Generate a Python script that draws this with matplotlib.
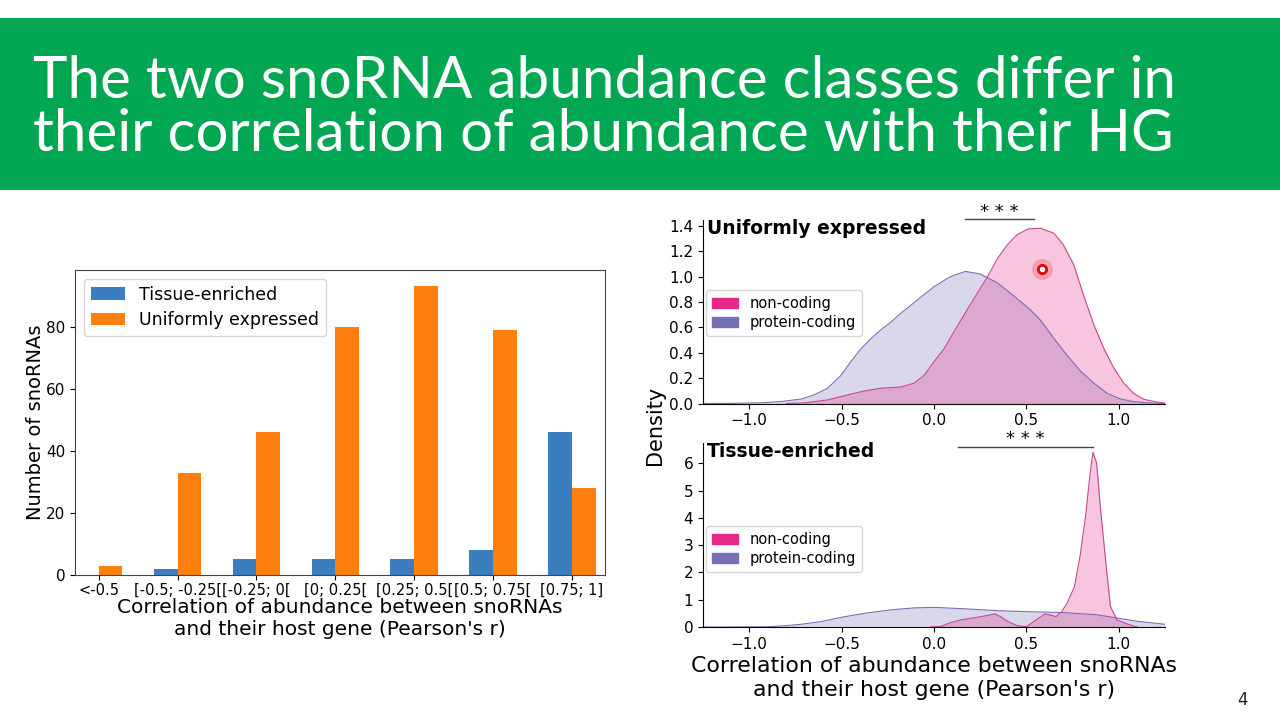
import matplotlib
matplotlib.use("Agg")
import matplotlib.pyplot as plt
from matplotlib.patches import Rectangle, Patch
import numpy as np

# ---------------- data ----------------
bins = ["<-0.5", "[-0.5; -0.25[", "[-0.25; 0[", "[0; 0.25[", "[0.25; 0.5[", "[0.5; 0.75[", "[0.75; 1]"]
tissue_enriched = [0, 2, 5, 5, 5, 8, 46]
uniformly_expressed = [3, 33, 46, 80, 93, 79, 28]

# density curves (Uniformly expressed)
uni_pc_x = [-1.25, -1.10, -0.94, -0.83, -0.72, -0.65, -0.576, -0.504, -0.45, -0.396, -0.342, -0.288,
            -0.234, -0.18, -0.09, 0.0, 0.09, 0.17, 0.25, 0.343, 0.43, 0.52, 0.577, 0.65, 0.72, 0.79,
            0.865, 0.937, 1.01, 1.08, 1.17, 1.25]
uni_pc_y = [0.0, 0.001, 0.005, 0.015, 0.035, 0.067, 0.12, 0.22, 0.33, 0.43, 0.51, 0.58,
            0.64, 0.71, 0.815, 0.92, 1.0, 1.04, 1.02, 0.95, 0.85, 0.74, 0.655, 0.51, 0.38, 0.26,
            0.16, 0.08, 0.035, 0.015, 0.004, 0.001]
uni_nc_x = [-0.80, -0.70, -0.576, -0.47, -0.38, -0.29, -0.18, -0.108, -0.054, 0.0, 0.054, 0.108, 0.18,
            0.235, 0.29, 0.343, 0.397, 0.45, 0.51, 0.577, 0.65, 0.70, 0.757, 0.81, 0.865, 0.92, 0.973,
            1.027, 1.08, 1.135, 1.21, 1.25]
uni_nc_y = [0.0, 0.005, 0.028, 0.067, 0.098, 0.12, 0.13, 0.16, 0.22, 0.33, 0.43, 0.565, 0.74,
            0.87, 1.0, 1.14, 1.25, 1.33, 1.375, 1.38, 1.34, 1.25, 1.09, 0.85, 0.62, 0.43, 0.28,
            0.16, 0.08, 0.033, 0.01, 0.003]

# density curves (Tissue-enriched)
te_pc_x = [-1.25, -1.17, -0.90, -0.80, -0.72, -0.61, -0.49, -0.36, -0.23, -0.11, 0.0, 0.16, 0.34, 0.52,
           0.70, 0.88, 0.99, 1.10, 1.25]
te_pc_y = [0.0, 0.0, 0.01, 0.05, 0.10, 0.20, 0.37, 0.52, 0.63, 0.70, 0.72, 0.67, 0.60, 0.56,
           0.53, 0.45, 0.33, 0.21, 0.10]
te_nc_x = [-0.02, 0.036, 0.09, 0.144, 0.22, 0.27, 0.33, 0.36, 0.40, 0.45, 0.50, 0.54, 0.60, 0.63, 0.66,
           0.69, 0.72, 0.76, 0.79, 0.82, 0.845, 0.86, 0.88, 0.90, 0.93, 0.955, 0.99, 1.05, 1.10]
te_nc_y = [0.0, 0.02, 0.16, 0.26, 0.34, 0.40, 0.48, 0.38, 0.20, 0.05, 0.01, 0.20, 0.48, 0.44, 0.38,
           0.56, 0.87, 1.48, 2.58, 4.05, 5.65, 6.41, 6.02, 4.42, 2.34, 0.75, 0.26, 0.10, 0.0]

density_ticks = [-1.0, -0.5, 0.0, 0.5, 1.0]

# ---------------- styles ----------------
BLUE = "#3a7ebf"
ORANGE = "#ff7f0e"
PINK = "#e7298a"
PURPLE = "#7570b3"
GREEN = "#00a651"

plt.rcParams["font.family"] = ["DejaVu Sans"]

fig = plt.figure(figsize=(12.8, 7.2), dpi=100)
fig.patch.set_facecolor("white")

# title banner
fig.patches.append(Rectangle((0, 1 - 190 / 720), 1, 172 / 720, transform=fig.transFigure,
                             facecolor=GREEN, edgecolor="none", zorder=0))
title_font = dict(family=["Lato", "DejaVu Sans"], weight="normal", color="white", fontsize=42)
fig.text(33 / 1280, 1 - 98 / 720, "The two snoRNA abundance classes differ in", va="baseline",
         ha="left", **title_font)
fig.text(33 / 1280, 1 - 151 / 720, "their correlation of abundance with their HG", va="baseline",
         ha="left", **title_font)

# ---------------- bar chart ----------------
axb = fig.add_axes([75 / 1280, 1 - 575 / 720, 530 / 1280, 305 / 720])
x = np.arange(len(bins))
w = 0.3
axb.bar(x - w / 2, tissue_enriched, width=w, color=BLUE, label="Tissue-enriched")
axb.bar(x + w / 2, uniformly_expressed, width=w, color=ORANGE, label="Uniformly expressed")
axb.set_xlim(-0.3, 6.42)
axb.set_ylim(0, 98.3)
axb.set_xticks(x)
axb.set_xticklabels(bins, fontsize=10.5)
axb.set_yticks([0, 20, 40, 60, 80])
axb.tick_params(axis="y", labelsize=11)
axb.tick_params(axis="x", pad=2)
axb.set_ylabel("Number of snoRNAs", fontsize=14, labelpad=1)
axb.set_xlabel("Correlation of abundance between snoRNAs\nand their host gene (Pearson's r)",
               fontsize=14.5, labelpad=0, linespacing=1.2)
for s in axb.spines.values():
    s.set_color("#444444")
axb.legend(loc="upper left", fontsize=12.5, frameon=True, borderaxespad=0.5,
           handlelength=2.0, labelspacing=0.45)

# ---------------- density plots ----------------
def density_panel(ax, pc_x, pc_y, nc_x, nc_y, title, ylim, yticks, star_x, star_y, leg_y):
    ax.fill_between(pc_x, pc_y, color=PURPLE, alpha=0.27, linewidth=0)
    ax.plot(pc_x, pc_y, color=PURPLE, linewidth=0.8)
    ax.fill_between(nc_x, nc_y, color=PINK, alpha=0.27, linewidth=0)
    ax.plot(nc_x, nc_y, color="#c8458f", linewidth=0.8)
    ax.set_xlim(-1.25, 1.25)
    ax.set_ylim(*ylim)
    ax.set_xticks(density_ticks)
    ax.set_yticks(yticks)
    ax.tick_params(labelsize=11)
    ax.spines["top"].set_visible(False)
    ax.spines["right"].set_visible(False)
    ax.text(0.008, 1.005, title, transform=ax.transAxes, fontsize=13.5, fontweight="bold",
            ha="left", va="top")
    handles = [Patch(color=PINK, label="non-coding"), Patch(color=PURPLE, label="protein-coding")]
    ax.legend(handles=handles, loc="center left", fontsize=10.5, frameon=True,
              bbox_to_anchor=(0.0, leg_y), borderaxespad=0.2, handlelength=1.8,
              labelspacing=0.25, borderpad=0.4)
    ax.plot(star_x, [star_y[0], star_y[0]], color="#444444", linewidth=1, clip_on=False)
    ax.text(np.mean(star_x), star_y[1], "* * *", ha="center", va="center", fontsize=13,
            clip_on=False)

ax1 = fig.add_axes([703 / 1280, 1 - 403.5 / 720, 462 / 1280, 183.5 / 720])
density_panel(ax1, uni_pc_x, uni_pc_y, uni_nc_x, uni_nc_y, "Uniformly expressed",
              (0, 1.445), [0.0, 0.2, 0.4, 0.6, 0.8, 1.0, 1.2, 1.4], [0.17, 0.54], [1.45, 1.51],
              0.493)
ax1.set_yticklabels(["0.0", "0.2", "0.4", "0.6", "0.8", "1.0", "1.2", "1.4"])

ax2 = fig.add_axes([703 / 1280, 1 - 627 / 720, 462 / 1280, 184 / 720])
density_panel(ax2, te_pc_x, te_pc_y, te_nc_x, te_nc_y, "Tissue-enriched",
              (0, 6.75), [0, 1, 2, 3, 4, 5, 6], [0.13, 0.86], [6.62, 6.9], 0.424)
ax2.set_xlabel("Correlation of abundance between snoRNAs\nand their host gene (Pearson's r)",
               fontsize=15.8, labelpad=3, linespacing=1.25)

fig.text(655 / 1280, 1 - 425 / 720, "Density", rotation=90, fontsize=15, ha="center", va="center")

# pointer mark on slide
fig.add_artist(plt.Line2D([1042 / 1280], [1 - 269 / 720], marker="o", markersize=14,
                          color="#ff4040", alpha=0.25, transform=fig.transFigure, linestyle="none"))
fig.add_artist(plt.Line2D([1042 / 1280], [1 - 269 / 720], marker="o", markersize=6,
                          markerfacecolor="white", markeredgecolor="#e00000", markeredgewidth=2,
                          transform=fig.transFigure, linestyle="none"))

# page number
fig.text(1243 / 1280, 1 - 700 / 720, "4", fontsize=12, ha="center", va="center", color="#222222")

fig.savefig("out.png", dpi=100)
